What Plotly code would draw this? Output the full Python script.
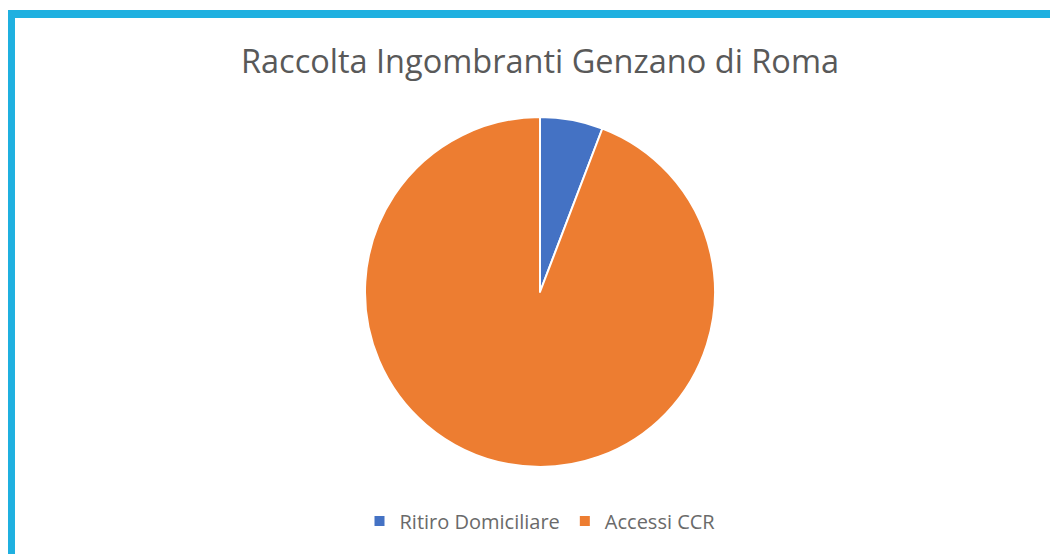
import plotly.graph_objects as go

labels = ["Ritiro Domiciliare", "Accessi CCR"]
values = [5.8, 94.2]
colors = ["#4472C4", "#ED7D31"]

W, H = 1058, 554
OFF = 8  # page body margin offset
cx, cy, r = 540 - OFF, 292 - OFF, 175

fig = go.Figure(go.Pie(
    labels=labels, values=values, sort=False, direction="clockwise",
    marker=dict(colors=colors, line=dict(color="white", width=2)),
    textinfo="none", hoverinfo="label+value",
    domain=dict(x=[(cx - r) / W, (cx + r) / W], y=[1 - (cy + r) / H, 1 - (cy - r) / H]),
))

fig.update_layout(
    width=W, height=H,
    margin=dict(l=0, r=0, t=0, b=0),
    paper_bgcolor="white", plot_bgcolor="white",
    title=dict(text="Raccolta Ingombranti Genzano di Roma", x=cx / W, xanchor="center",
               y=1 - (62 - OFF) / H, yanchor="middle",
               font=dict(family="Open Sans", size=32.5, color="#595959")),
    legend=dict(orientation="h", x=cx / W, xanchor="center", y=1 - (521 - OFF) / H, yanchor="middle",
                font=dict(family="Open Sans", size=20, color="#6a6a6a"),
                itemwidth=30, bgcolor="rgba(0,0,0,0)"),
    shapes=[
        dict(type="rect", xref="paper", yref="paper", x0=0, x1=1,
             y0=1 - (18 - OFF) / H, y1=1 - (10 - OFF) / H, fillcolor="#1FB0E0", line=dict(width=0), layer="above"),
        dict(type="rect", xref="paper", yref="paper", x0=0, x1=(15 - OFF) / W,
             y0=0, y1=1 - (10 - OFF) / H, fillcolor="#1FB0E0", line=dict(width=0), layer="above"),
    ],
)

fig.write_html("out.html")
